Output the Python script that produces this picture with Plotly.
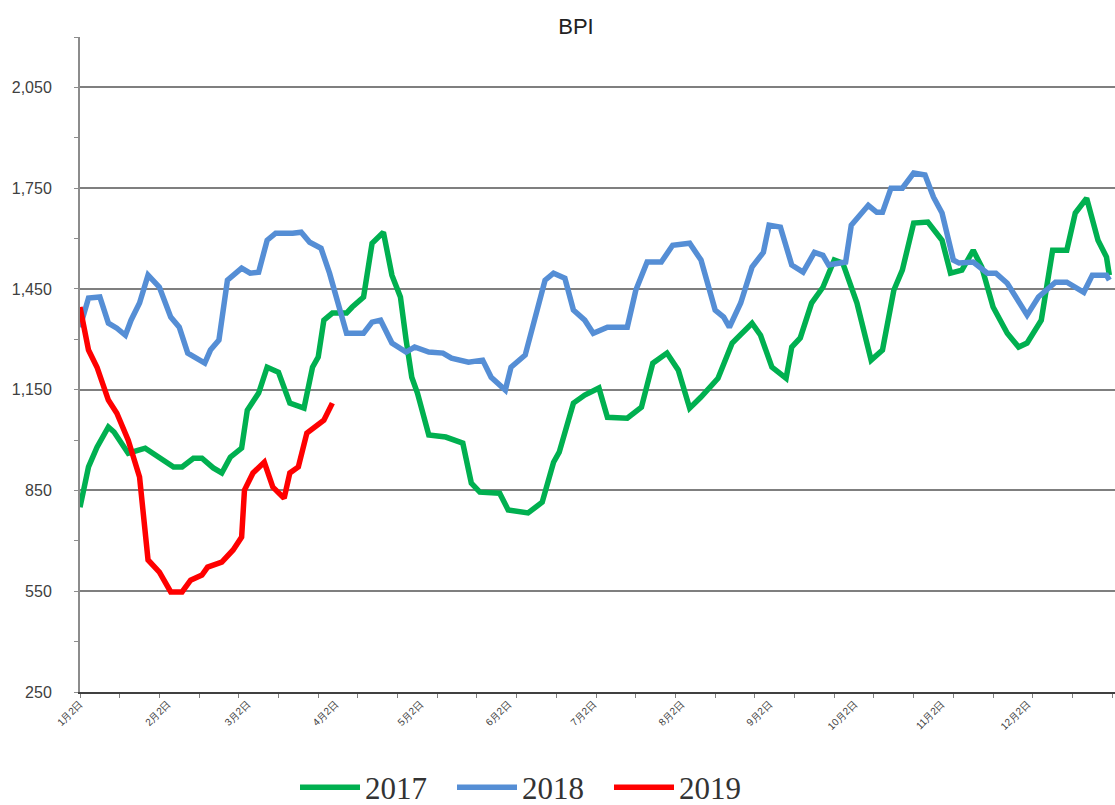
import pandas as pd
import plotly.graph_objects as go

# BPI daily values (dates as month-day, plotted on one shared year)
dates_2017 = [
    "01-02", "01-05", "01-08", "01-12", "01-14", "01-19", "01-25", "01-30", "02-04", "02-07",
    "02-11", "02-14", "02-18", "02-21", "02-24", "02-28", "03-02", "03-06", "03-09", "03-13",
    "03-17", "03-22", "03-25", "03-27", "03-29", "04-01", "04-06", "04-08", "04-12", "04-15",
    "04-19", "04-22", "04-25", "04-27", "04-29", "05-01", "05-05", "05-11", "05-17", "05-20",
    "05-23", "05-30", "06-02", "06-09", "06-14", "06-18", "06-20", "06-25", "06-29", "07-04",
    "07-07", "07-14", "07-19", "07-23", "07-28", "08-01", "08-05", "08-09", "08-15", "08-20",
    "08-27", "08-30", "09-03", "09-08", "09-10", "09-13", "09-17", "09-21", "09-25", "09-28",
    "10-03", "10-08", "10-12", "10-16", "10-19", "10-23", "10-28", "11-02", "11-05", "11-09",
    "11-13", "11-16", "11-20", "11-25", "11-29", "12-02", "12-07", "12-11", "12-16", "12-19",
    "12-23", "12-27", "12-30", "12-31",
]
bpi_2017 = [
    800, 920, 979, 1039, 1024, 961, 976, 949, 920, 920,
    946, 946, 917, 902, 949, 976, 1089, 1140, 1217, 1202,
    1110, 1095, 1217, 1247, 1357, 1378, 1378, 1396, 1426, 1586,
    1619, 1491, 1426, 1298, 1187, 1140, 1015, 1009, 991, 872,
    845, 842, 792, 783, 815, 934, 964, 1110, 1134, 1155,
    1068, 1065, 1098, 1229, 1259, 1208, 1095, 1128, 1184, 1289,
    1348, 1312, 1217, 1184, 1277, 1304, 1408, 1455, 1536, 1527,
    1408, 1238, 1268, 1446, 1506, 1646, 1649, 1595, 1497, 1506,
    1565, 1515, 1396, 1318, 1277, 1289, 1357, 1565, 1565, 1676,
    1720, 1595, 1545, 1491,
]

dates_2018 = [
    "01-02", "01-05", "01-09", "01-12", "01-15", "01-18", "01-20", "01-23", "01-26", "01-30",
    "02-03", "02-06", "02-09", "02-15", "02-17", "02-20", "02-23", "02-28", "03-03", "03-06",
    "03-09", "03-12", "03-18", "03-21", "03-24", "03-28", "03-31", "04-02", "04-06", "04-12",
    "04-15", "04-18", "04-22", "04-27", "04-30", "05-05", "05-10", "05-13", "05-19", "05-24",
    "05-27", "06-01", "06-03", "06-08", "06-11", "06-15", "06-18", "06-22", "06-25", "06-29",
    "07-02", "07-07", "07-14", "07-17", "07-21", "07-26", "07-30", "08-05", "08-09", "08-12",
    "08-14", "08-17", "08-19", "08-23", "08-27", "08-31", "09-02", "09-06", "09-10", "09-14",
    "09-18", "09-21", "09-23", "09-29", "10-01", "10-07", "10-10", "10-12", "10-15", "10-19",
    "10-23", "10-27", "10-30", "11-02", "11-06", "11-08", "11-13", "11-18", "11-21", "11-25",
    "11-29", "12-02", "12-06", "12-12", "12-16", "12-22", "12-25", "12-30", "12-31",
]
bpi_2018 = [
    1336, 1423, 1426, 1348, 1333, 1312, 1357, 1408, 1491, 1455,
    1366, 1336, 1259, 1229, 1268, 1298, 1476, 1512, 1497, 1500,
    1595, 1616, 1616, 1619, 1589, 1571, 1497, 1437, 1318, 1318,
    1351, 1357, 1289, 1262, 1277, 1262, 1259, 1244, 1232, 1238,
    1187, 1149, 1217, 1253, 1348, 1476, 1497, 1482, 1387, 1357,
    1318, 1336, 1336, 1446, 1530, 1530, 1580, 1586, 1536, 1437,
    1387, 1366, 1336, 1408, 1515, 1559, 1640, 1634, 1521, 1500,
    1559, 1550, 1521, 1530, 1640, 1699, 1678, 1678, 1750, 1750,
    1795, 1789, 1723, 1676, 1536, 1527, 1530, 1497, 1497, 1467,
    1411, 1372, 1426, 1470, 1470, 1440, 1491, 1491, 1476,
]

dates_2019 = [
    "01-02", "01-05", "01-08", "01-12", "01-15", "01-19", "01-23", "01-26", "01-30", "02-03",
    "02-07", "02-10", "02-14", "02-16", "02-21", "02-25", "02-28", "03-01", "03-04", "03-08",
    "03-11", "03-15", "03-17", "03-20", "03-23", "03-26", "03-29", "04-01",
]
bpi_2019 = [
    1396, 1268, 1217, 1119, 1080, 1000, 890, 643, 607, 548,
    548, 583, 598, 622, 637, 673, 711, 851, 902, 934,
    860, 827, 902, 920, 1021, 1039, 1059, 1110,
]

month_ticks = ["01-02", "02-02", "03-02", "04-02", "05-02", "06-02",
               "07-02", "08-02", "09-02", "10-02", "11-02", "12-02"]
month_labels = ["1月2日", "2月2日", "3月2日", "4月2日", "5月2日", "6月2日",
                "7月2日", "8月2日", "9月2日", "10月2日", "11月2日", "12月2日"]
y_ticks = [250, 550, 850, 1150, 1450, 1750, 2050]

BASE_YEAR = "2019-"
W, H = 1115, 805


def to_dates(md_list):
    return pd.to_datetime([BASE_YEAR + md for md in md_list])


series = [
    ("2017", dates_2017, bpi_2017, "#00B050"),
    ("2018", dates_2018, bpi_2018, "#558ED5"),
    ("2019", dates_2019, bpi_2019, "#FF0000"),
]

fig = go.Figure()
for name, d, v, color in series:
    fig.add_trace(go.Scatter(
        x=to_dates(d),
        y=v,
        name=name,
        mode="lines",
        line=dict(color=color, width=5.5),
    ))

fig.update_layout(
    width=W,
    height=H,
    paper_bgcolor="white",
    plot_bgcolor="white",
    margin=dict(l=80, r=0, t=37, b=113, autoexpand=False),
    title=dict(
        text="BPI",
        x=576 / W,
        xref="container",
        xanchor="center",
        y=1 - 26 / H,
        yref="container",
        yanchor="middle",
        font=dict(family="Liberation Sans, Arial, sans-serif", size=22, color="#222222"),
    ),
    showlegend=True,
    legend=dict(
        orientation="h",
        x=(295 - 80) / 1035,
        xanchor="left",
        y=-0.146,
        yanchor="middle",
        font=dict(family="Liberation Serif, Times New Roman, serif", size=31, color="#333333"),
        itemwidth=60,
        entrywidth=82,
    ),
    font=dict(family="Liberation Sans, Arial, sans-serif", color="#404040"),
)

fig.update_xaxes(
    automargin=False,
    range=[BASE_YEAR + "01-02", "2020-01-02"],
    tickvals=to_dates(month_ticks),
    ticktext=month_labels,
    tickangle=-45,
    tickfont=dict(size=10, color="#404040"),
    ticks="",
    showgrid=False,
    showline=True,
    linecolor="#404040",
    linewidth=2,
    zeroline=False,
    minor=dict(
        ticks="outside",
        ticklen=4,
        tickcolor="#808080",
        tick0=BASE_YEAR + "01-02",
        dtick=14 * 86400000,
        showgrid=False,
    ),
)

fig.update_yaxes(
    automargin=False,
    range=[250, 2200],
    tickvals=y_ticks,
    tickformat=",",
    tickfont=dict(size=16, color="#404040"),
    ticklabelstandoff=19,
    showgrid=True,
    gridcolor="#7F7F7F",
    gridwidth=1.5,
    showline=True,
    linecolor="#8C8C8C",
    linewidth=2,
    ticks="outside",
    ticklen=4,
    tickcolor="#8C8C8C",
    zeroline=False,
    minor=dict(ticks="outside", ticklen=4, tickcolor="#8C8C8C", dtick=150, tick0=250, showgrid=False),
)

# drop the browser's default 8px body margin so the figure fills the window exactly
fig.write_html(
    "out.html",
    config={"displayModeBar": False},
    post_script="document.body.style.margin = '0';",
)
